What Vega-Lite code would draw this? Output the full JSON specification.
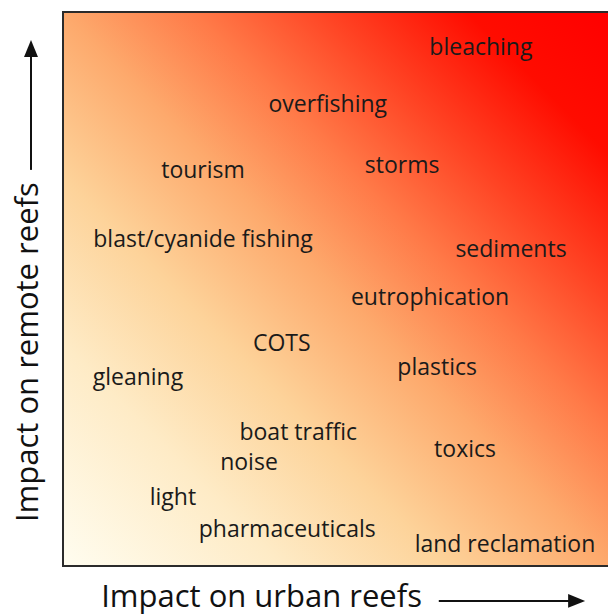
{
  "$schema": "https://vega.github.io/schema/vega-lite/v6.json",
  "width": 547,
  "height": 554,
  "autosize": {"type": "none"},
  "padding": {"left": 63, "top": 12, "right": 0, "bottom": 49},
  "background": "white",
  "config": {"view": {"stroke": null}},
  "datasets": {
    "labels": [
      {"label": "bleaching", "x": 7.64, "y": 9.35},
      {"label": "overfishing", "x": 4.84, "y": 8.32},
      {"label": "tourism", "x": 2.56, "y": 7.13},
      {"label": "storms", "x": 6.2, "y": 7.22},
      {"label": "blast/cyanide fishing", "x": 2.56, "y": 5.88},
      {"label": "sediments", "x": 8.19, "y": 5.7},
      {"label": "eutrophication", "x": 6.71, "y": 4.84},
      {"label": "COTS", "x": 4.0, "y": 4.01},
      {"label": "gleaning", "x": 1.37, "y": 3.39},
      {"label": "plastics", "x": 6.84, "y": 3.57},
      {"label": "boat traffic", "x": 4.3, "y": 2.4},
      {"label": "noise", "x": 3.4, "y": 1.86},
      {"label": "toxics", "x": 7.35, "y": 2.09},
      {"label": "light", "x": 2.01, "y": 1.23},
      {"label": "pharmaceuticals", "x": 4.1, "y": 0.65},
      {"label": "land reclamation", "x": 8.08, "y": 0.38}
    ]
  },
  "layer": [
    {
      "data": {"values": [{"x0": 0, "x1": 10, "y0": 0, "y1": 10}]},
      "mark": {
        "type": "rect",
        "stroke": "#2b2b2b",
        "strokeWidth": 2,
        "color": {
          "gradient": "linear",
          "x1": 0, "y1": 1, "x2": 1, "y2": 0,
          "stops": [
            {"offset": 0, "color": "#fffdf0"},
            {"offset": 0.2, "color": "#feebc6"},
            {"offset": 0.35, "color": "#fdd39a"},
            {"offset": 0.5, "color": "#fda96c"},
            {"offset": 0.62, "color": "#ff7a48"},
            {"offset": 0.74, "color": "#ff4424"},
            {"offset": 0.87, "color": "#ff0c00"},
            {"offset": 1, "color": "#ff0000"}
          ]
        }
      },
      "encoding": {
        "x": {"field": "x0", "type": "quantitative", "scale": {"domain": [0, 10], "nice": false, "zero": false}, "axis": null},
        "x2": {"field": "x1"},
        "y": {"field": "y0", "type": "quantitative", "scale": {"domain": [0, 10], "nice": false, "zero": false}, "axis": null},
        "y2": {"field": "y1"}
      }
    },
    {
      "data": {"name": "labels"},
      "mark": {"type": "text", "font": "Open Sans", "fontSize": 23, "color": "#1a1a1a", "align": "center", "baseline": "middle"},
      "encoding": {
        "x": {"field": "x", "type": "quantitative"},
        "y": {"field": "y", "type": "quantitative"},
        "text": {"field": "label"}
      }
    },
    {
      "data": {"values": [{"title": "Impact on urban reefs", "x": 3.63, "y": -0.74}]},
      "mark": {"type": "text", "font": "Open Sans", "fontSize": 31, "color": "#111111", "align": "center", "baseline": "alphabetic"},
      "encoding": {
        "x": {"field": "x", "type": "quantitative"},
        "y": {"field": "y", "type": "quantitative"},
        "text": {"field": "title"}
      }
    },
    {
      "data": {"values": [{"title": "Impact on remote reefs", "x": -0.457, "y": 3.86}]},
      "mark": {"type": "text", "font": "Open Sans", "fontSize": 31, "color": "#111111", "align": "center", "baseline": "alphabetic", "angle": 270},
      "encoding": {
        "x": {"field": "x", "type": "quantitative"},
        "y": {"field": "y", "type": "quantitative"},
        "text": {"field": "title"}
      }
    },
    {
      "data": {"values": [
        {"x": 6.87, "x2": 9.27, "y": -0.63, "y2": -0.63},
        {"x": -0.585, "x2": -0.585, "y": 7.15, "y2": 9.28}
      ]},
      "mark": {"type": "rule", "color": "#111111", "strokeWidth": 2},
      "encoding": {
        "x": {"field": "x", "type": "quantitative"},
        "x2": {"field": "x2"},
        "y": {"field": "y", "type": "quantitative"},
        "y2": {"field": "y2"}
      }
    },
    {
      "data": {"values": [{"x": 9.39, "y": -0.63}]},
      "mark": {"type": "point", "filled": true, "color": "#111111", "opacity": 1, "size": 289, "shape": "M-1,-0.82L1,0L-1,0.82Z"},
      "encoding": {
        "x": {"field": "x", "type": "quantitative"},
        "y": {"field": "y", "type": "quantitative"}
      }
    },
    {
      "data": {"values": [{"x": -0.585, "y": 9.34}]},
      "mark": {"type": "point", "filled": true, "color": "#111111", "opacity": 1, "size": 289, "shape": "M-0.82,1L0,-1L0.82,1Z"},
      "encoding": {
        "x": {"field": "x", "type": "quantitative"},
        "y": {"field": "y", "type": "quantitative"}
      }
    }
  ]
}
